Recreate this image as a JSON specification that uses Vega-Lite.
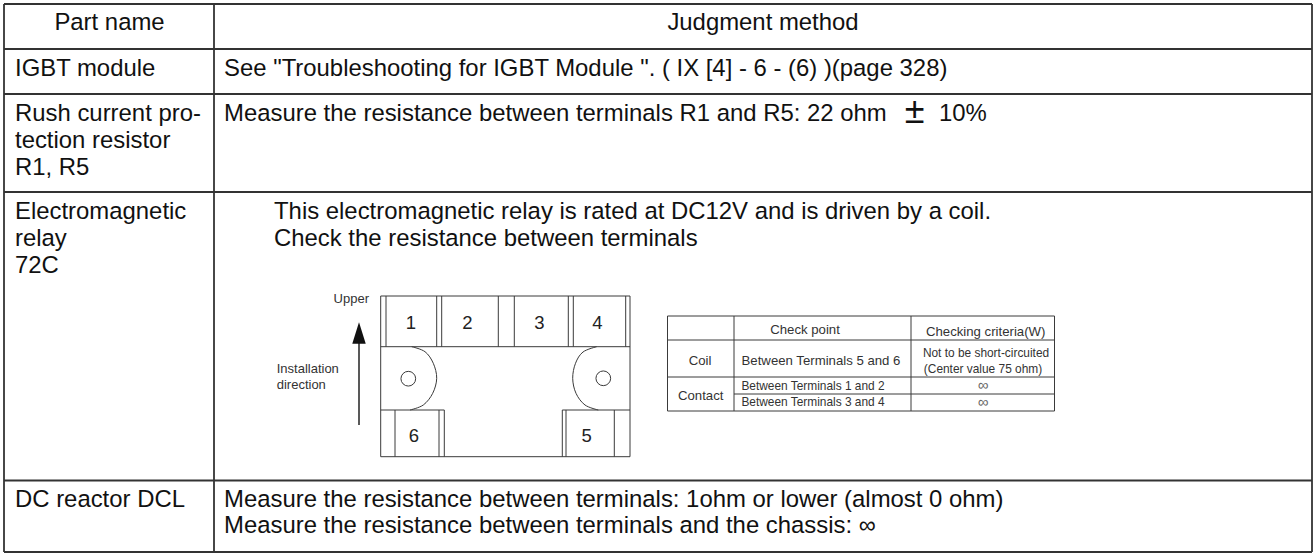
{"$schema":"https://vega.github.io/schema/vega-lite/v6.json","width":1316,"height":554,"padding":0,"autosize":{"type":"fit","contains":"padding"},"background":"white","view":{"stroke":null},"datasets":{"grid":[{"x":4,"y":4,"x2":1312,"y2":4},{"x":4,"y":49,"x2":1312,"y2":49},{"x":4,"y":94,"x2":1312,"y2":94},{"x":4,"y":192,"x2":1312,"y2":192},{"x":4,"y":480.5,"x2":1312,"y2":480.5},{"x":4,"y":552,"x2":1312,"y2":552},{"x":4,"y":4,"x2":4,"y2":552},{"x":214,"y":4,"x2":214,"y2":552},{"x":1312,"y":4,"x2":1312,"y2":552}],"thin":[{"x":380.7,"y":296,"x2":630,"y2":296},{"x":380.7,"y":346.7,"x2":630,"y2":346.7},{"x":380.7,"y":410,"x2":444.3,"y2":410},{"x":562.3,"y":410,"x2":630,"y2":410},{"x":380.7,"y":456.7,"x2":630,"y2":456.7},{"x":380.7,"y":296,"x2":380.7,"y2":456.7},{"x":630,"y":296,"x2":630,"y2":456.7},{"x":386,"y":296,"x2":386,"y2":346.7},{"x":436.7,"y":296,"x2":436.7,"y2":346.7},{"x":441.7,"y":296,"x2":441.7,"y2":346.7},{"x":498.3,"y":296,"x2":498.3,"y2":346.7},{"x":514.3,"y":296,"x2":514.3,"y2":346.7},{"x":568.3,"y":296,"x2":568.3,"y2":346.7},{"x":573.3,"y":296,"x2":573.3,"y2":346.7},{"x":625.7,"y":296,"x2":625.7,"y2":346.7},{"x":395,"y":410,"x2":395,"y2":456.7},{"x":439,"y":410,"x2":439,"y2":456.7},{"x":444.3,"y":410,"x2":444.3,"y2":456.7},{"x":562.3,"y":410,"x2":562.3,"y2":456.7},{"x":566,"y":410,"x2":566,"y2":456.7},{"x":614.3,"y":410,"x2":614.3,"y2":456.7},{"x":667.5,"y":316,"x2":1054.5,"y2":316},{"x":667.5,"y":340,"x2":1054.5,"y2":340},{"x":667.5,"y":377,"x2":1054.5,"y2":377},{"x":734,"y":394,"x2":1054.5,"y2":394},{"x":667.5,"y":411,"x2":1054.5,"y2":411},{"x":667.5,"y":316,"x2":667.5,"y2":411},{"x":734,"y":316,"x2":734,"y2":411},{"x":911,"y":316,"x2":911,"y2":411},{"x":1054.5,"y":316,"x2":1054.5,"y2":411}],"arcs":[{"arc":"left","o":0,"x":411.7,"y":346.7},{"arc":"left","o":1,"x":425,"y":351.7},{"arc":"left","o":2,"x":433.3,"y":363.3},{"arc":"left","o":3,"x":436.7,"y":378.3},{"arc":"left","o":4,"x":432.7,"y":393.3},{"arc":"left","o":5,"x":423.3,"y":405},{"arc":"left","o":6,"x":410,"y":410},{"arc":"right","o":0,"x":596.7,"y":346.7},{"arc":"right","o":1,"x":583,"y":352},{"arc":"right","o":2,"x":575.5,"y":363.3},{"arc":"right","o":3,"x":572.7,"y":378.3},{"arc":"right","o":4,"x":576,"y":393.3},{"arc":"right","o":5,"x":585,"y":405},{"arc":"right","o":6,"x":598.3,"y":410}],"holes":[{"x":408.3,"y":378.7},{"x":603.3,"y":378.3}],"shaft":[{"x":359,"y":343,"x2":359,"y2":425}],"head":[{"x":359,"y":333}],"main":[{"x":15,"y":76,"t":"IGBT module"},{"x":15,"y":121,"t":"Rush current pro-"},{"x":15,"y":148,"t":"tection resistor"},{"x":15,"y":175,"t":"R1, R5"},{"x":15,"y":219,"t":"Electromagnetic"},{"x":15,"y":246,"t":"relay"},{"x":15,"y":273,"t":"72C"},{"x":15,"y":507,"t":"DC reactor DCL"},{"x":224,"y":76,"t":"See \"Troubleshooting for IGBT Module \".  ( IX [4] - 6 - (6) )(page 328)"},{"x":224,"y":121,"t":"Measure the resistance between terminals R1 and R5: 22 ohm"},{"x":939,"y":121,"t":"10%"},{"x":274,"y":219,"t":"This electromagnetic relay is rated at DC12V and is driven by a coil."},{"x":274,"y":246,"t":"Check the resistance between terminals"},{"x":224,"y":507,"t":"Measure the resistance between terminals: 1ohm or lower (almost 0 ohm)"},{"x":224,"y":533,"t":"Measure the resistance between terminals and the chassis: ∞"}],"plusminus":[{"x":914.5,"y":123,"t":"±"}],"head1":[{"x":109.5,"y":30,"t":"Part name"},{"x":763,"y":30,"t":"Judgment method"}],"digits":[{"x":411,"y":329,"t":"1"},{"x":467.3,"y":329,"t":"2"},{"x":539.3,"y":329,"t":"3"},{"x":597.3,"y":329,"t":"4"},{"x":414,"y":441.7,"t":"6"},{"x":586.7,"y":441.7,"t":"5"}],"small":[{"x":369,"y":303.3,"t":"Upper"}],"smallL":[{"x":276.7,"y":373.3,"t":"Installation"},{"x":276.7,"y":389.3,"t":"direction"}],"inner":[{"x":805,"y":334,"t":"Check point"},{"x":700,"y":365,"t":"Coil"},{"x":821,"y":365,"t":"Between Terminals 5 and 6"},{"x":700.7,"y":400,"t":"Contact"},{"x":985.7,"y":336,"t":"Checking criteria(W)"}],"inner2":[{"x":813,"y":390,"t":"Between Terminals 1 and 2"},{"x":813,"y":406,"t":"Between Terminals 3 and 4"},{"x":986,"y":357.3,"t":"Not to be short-circuited"},{"x":983,"y":373,"t":"(Center value 75 ohm)"}],"inf":[{"x":983,"y":390,"t":"∞"},{"x":983,"y":407,"t":"∞"}]},"encoding":{"x":{"field":"x","type":"quantitative","scale":{"domain":[0,1316],"nice":false,"zero":false},"axis":null},"y":{"field":"y","type":"quantitative","scale":{"domain":[554,0],"nice":false,"zero":false},"axis":null}},"layer":[{"data":{"name":"grid"},"mark":{"type":"rule","color":"#333333","strokeWidth":1.8},"encoding":{"x2":{"field":"x2"},"y2":{"field":"y2"}}},{"data":{"name":"thin"},"mark":{"type":"rule","color":"#3a3a3a","strokeWidth":1},"encoding":{"x2":{"field":"x2"},"y2":{"field":"y2"}}},{"data":{"name":"arcs"},"mark":{"type":"line","color":"#3a3a3a","strokeWidth":1,"interpolate":"cardinal"},"encoding":{"detail":{"field":"arc"},"order":{"field":"o","type":"ordinal"}}},{"data":{"name":"holes"},"mark":{"type":"point","shape":"circle","filled":false,"color":"#3a3a3a","strokeWidth":1,"size":216,"opacity":1}},{"data":{"name":"shaft"},"mark":{"type":"rule","color":"#222222","strokeWidth":1.5},"encoding":{"x2":{"field":"x2"},"y2":{"field":"y2"}}},{"data":{"name":"head"},"mark":{"type":"point","shape":"M0,-1.6L-1,1.6L1,1.6Z","filled":true,"color":"#111111","size":180,"opacity":1}},{"data":{"name":"main"},"mark":{"type":"text","font":"Liberation Sans","fontSize":23.9,"align":"left","baseline":"alphabetic","color":"#111111"},"encoding":{"text":{"field":"t"}}},{"data":{"name":"plusminus"},"mark":{"type":"text","font":"Liberation Sans","fontSize":36,"align":"center","baseline":"alphabetic","color":"#111111"},"encoding":{"text":{"field":"t"}}},{"data":{"name":"head1"},"mark":{"type":"text","font":"Liberation Sans","fontSize":23.9,"align":"center","baseline":"alphabetic","color":"#111111"},"encoding":{"text":{"field":"t"}}},{"data":{"name":"digits"},"mark":{"type":"text","font":"Liberation Sans","fontSize":18.5,"align":"center","baseline":"alphabetic","color":"#222222"},"encoding":{"text":{"field":"t"}}},{"data":{"name":"small"},"mark":{"type":"text","font":"Liberation Sans","fontSize":13,"align":"right","baseline":"alphabetic","color":"#333333"},"encoding":{"text":{"field":"t"}}},{"data":{"name":"smallL"},"mark":{"type":"text","font":"Liberation Sans","fontSize":13,"align":"left","baseline":"alphabetic","color":"#333333"},"encoding":{"text":{"field":"t"}}},{"data":{"name":"inner"},"mark":{"type":"text","font":"Liberation Sans","fontSize":13.2,"align":"center","baseline":"alphabetic","color":"#333333"},"encoding":{"text":{"field":"t"}}},{"data":{"name":"inner2"},"mark":{"type":"text","font":"Liberation Sans","fontSize":11.9,"align":"center","baseline":"alphabetic","color":"#333333"},"encoding":{"text":{"field":"t"}}},{"data":{"name":"inf"},"mark":{"type":"text","font":"Liberation Sans","fontSize":15,"align":"center","baseline":"alphabetic","color":"#666666"},"encoding":{"text":{"field":"t"}}}]}
